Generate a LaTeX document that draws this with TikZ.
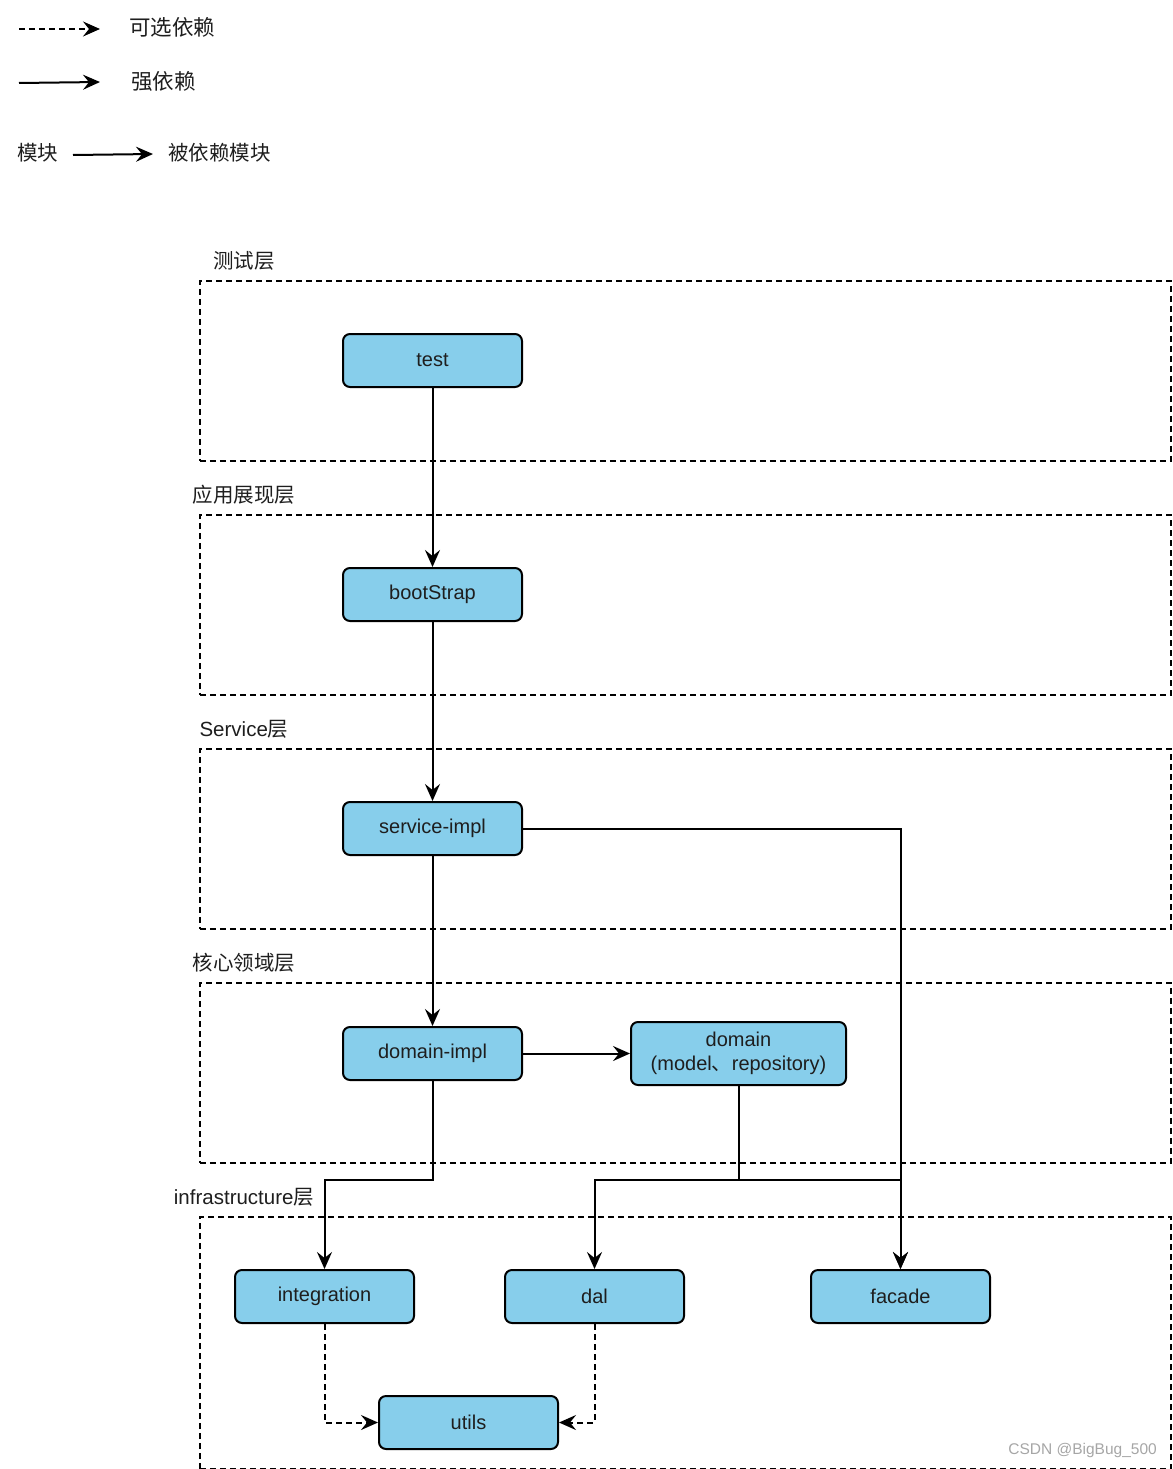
\documentclass[tikz,border=0pt]{standalone}
\usepackage{fontspec}
\setmainfont{Liberation Sans}
\newfontfamily\cjk{Noto Sans CJK SC}
\usetikzlibrary{arrows.meta}
\definecolor{boxfill}{RGB}{135,206,235}
\definecolor{txt}{RGB}{30,30,30}
\begin{document}
\begin{tikzpicture}[x=1pt,y=-1pt,
  mod/.style={draw=black, line width=2pt, fill=boxfill, rounded corners=7pt,
    minimum width=179pt, minimum height=53pt, inner sep=0pt, align=center,
    text=txt, font=\fontsize{20}{24.5}\selectfont},
  layer/.style={draw=black, line width=1.7pt, dash pattern=on 6pt off 4pt,
    minimum width=971pt, minimum height=180pt, inner sep=0pt, anchor=north west},
  lbl/.style={text=txt, inner sep=0pt, font=\fontsize{20.5}{24}\selectfont},
  leg/.style={text=txt, inner sep=0pt, anchor=west, font=\fontsize{21.5}{24}\selectfont},
  dep/.style={line width=2pt, -{Stealth[length=17pt,width=15pt,inset=6pt]}},
  opt/.style={dep, dash pattern=on 6pt off 4pt}
]
\useasboundingbox (0,0) rectangle (1172,1469);

% legend
\coordinate (l1a) at (19,29);  \coordinate (l1b) at (100,29);
\draw[opt] (l1a) -- (l1b);
\node[leg] (l1t) at (129,27) {\cjk 可选依赖};
\coordinate (l2a) at (19,83);  \coordinate (l2b) at (100,82);
\draw[dep] (l2a) -- (l2b);
\node[leg] (l2t) at (131,81) {\cjk 强依赖};
\node[leg, font=\fontsize{20.5}{24}\selectfont] (l3a) at (17,153) {\cjk 模块};
\coordinate (l3s) at (73,155); \coordinate (l3e) at (153,154);
\draw[dep] (l3s) -- (l3e);
\node[leg, font=\fontsize{20.5}{24}\selectfont] (l3b) at (168,153) {\cjk 被依赖模块};

% layers
\node[layer] (Ltest) at (199,280) {};
\node[layer] (Lapp) at (199,514) {};
\node[layer] (Lsvc) at (199,748) {};
\node[layer] (Lcore) at (199,982) {};
\node[layer, minimum height=252pt] (Linfra) at (199,1216) {};
\node[lbl] (LtestT) at (244,261) {\cjk 测试层};
\node[lbl] (LappT) at (244,495) {\cjk 应用展现层};
\node[lbl] (LsvcT) at (244,729) {Service{\cjk 层}};
\node[lbl] (LcoreT) at (244,963) {\cjk 核心领域层};
\node[lbl] (LinfraT) at (244,1197) {infrastructure{\cjk 层}};

% modules
\node[mod] (test) at (432.5,360.5) {test};
\node[mod] (boot) at (432.5,594.5) {bootStrap};
\node[mod] (svc) at (432.5,828.5) {service-impl};
\node[mod] (dimpl) at (432.5,1053.5) {domain-impl};
\node[mod, minimum width=215pt, minimum height=63pt] (domain) at (738.5,1053.5)
  {domain\\({model\cjk 、}repository)};
\node[mod] (integ) at (324.5,1296.5) {integration};
\node[mod] (dal) at (594.5,1296.5) {dal};
\node[mod] (facade) at (900.5,1296.5) {facade};
\node[mod] (utils) at (468.5,1422.5) {utils};

% connectors
\draw[dep] (test) -- (boot);
\draw[dep] (boot) -- (svc);
\draw[dep] (svc) -- (dimpl);
\draw[dep] (svc.east) -| (facade.north);
\draw[dep] (dimpl) -- (domain);
\coordinate (b1) at (432.5,1180);
\coordinate (b2) at (738.5,1180);
\draw[dep] (dimpl.south) -- (b1) -| (integ.north);
\draw[dep] (domain.south) -- (b2) -| (dal.north);
\draw[dep] (b2) -| (facade.north);
\draw[opt] (integ.south) |- (utils.west);
\draw[opt] (dal.south) |- (utils.east);

% watermark
\node[text=black!35, inner sep=0pt, anchor=east, font=\fontsize{15.5}{18}\selectfont]
  (wm) at (1157,1450) {CSDN @BigBug\_500};
\end{tikzpicture}
\end{document}
